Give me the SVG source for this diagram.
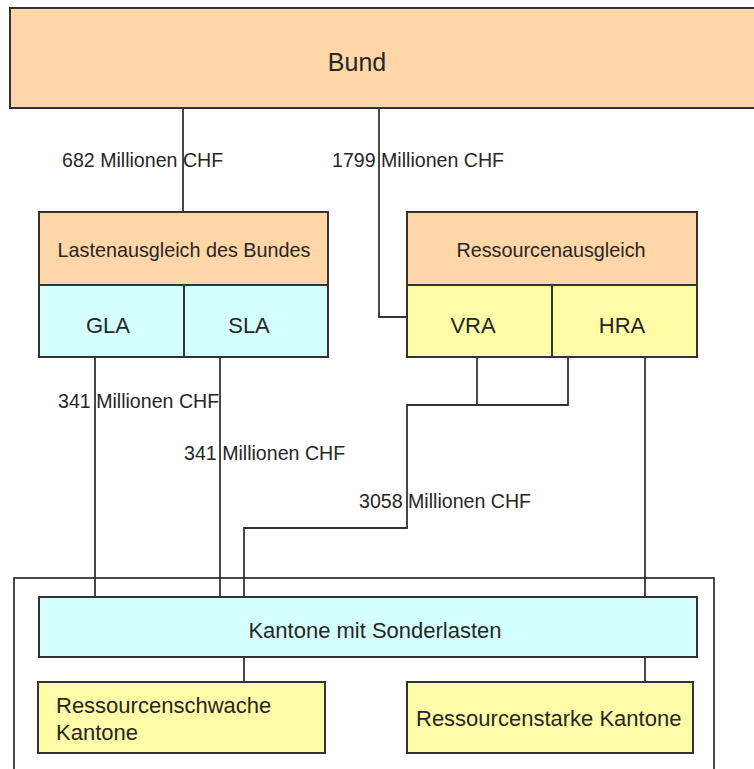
<svg xmlns="http://www.w3.org/2000/svg" width="754" height="769" viewBox="0 0 754 769">
<style>
  .box { stroke: #333; stroke-width: 2; }
  .peach { fill: #FFD6A8; }
  .cyan { fill: #D4FFFF; }
  .yellow { fill: #FFFCA8; }
  .frame { fill: none; stroke: #333; stroke-width: 1.8; }
  .conn { fill: none; stroke: #333; stroke-width: 1.8; }
  text { font-family: "Liberation Sans", Arial, sans-serif; fill: #262626; }
  .big { font-size: 25px; }
  .head { font-size: 19.8px; }
  .sub { font-size: 22px; }
  .lbl { font-size: 19.6px; }
  .c { text-anchor: middle; }
</style>
<rect width="754" height="769" fill="#ffffff"/>
<rect id="frame" class="frame" x="14" y="578" width="700" height="220"/>
<g id="connectors">
  <path class="conn" d="M183 108 V212"/>
  <path class="conn" d="M379 108 V317 H407"/>
  <path class="conn" d="M95 357 V597"/>
  <path class="conn" d="M220 357 V597"/>
  <path class="conn" d="M477 357 V405"/>
  <path class="conn" d="M568 357 V405 H407 V528 H244 V597"/>
  <path class="conn" d="M645 357 V597"/>
  <path class="conn" d="M244 657 V682"/>
  <path class="conn" d="M645 657 V682"/>
</g>
<g id="labels">
  <text class="lbl" x="62" y="167">682 Millionen CHF</text>
  <text class="lbl" x="332" y="167">1799 Millionen CHF</text>
  <text class="lbl" x="58" y="408">341 Millionen CHF</text>
  <text class="lbl" x="184" y="460">341 Millionen CHF</text>
  <text class="lbl" x="359" y="508">3058 Millionen CHF</text>
</g>
<g id="bund">
  <rect class="box peach" x="10" y="8" width="760" height="100"/>
  <text class="big c" x="357" y="71">Bund</text>
</g>
<g id="lastenausgleich">
  <rect class="box peach" x="39" y="212" width="289" height="73"/>
  <text class="head c" x="184" y="257">Lastenausgleich des Bundes</text>
</g>
<g id="gla">
  <rect class="box cyan" x="39" y="285" width="145" height="72"/>
  <text class="sub c" x="108" y="333">GLA</text>
</g>
<g id="sla">
  <rect class="box cyan" x="184" y="285" width="144" height="72"/>
  <text class="sub c" x="249" y="333">SLA</text>
</g>
<g id="ressourcenausgleich">
  <rect class="box peach" x="407" y="212" width="290" height="73"/>
  <text class="head c" x="551" y="257">Ressourcenausgleich</text>
</g>
<g id="vra">
  <rect class="box yellow" x="407" y="285" width="145" height="72"/>
  <text class="sub c" x="473" y="333">VRA</text>
</g>
<g id="hra">
  <rect class="box yellow" x="552" y="285" width="145" height="72"/>
  <text class="sub c" x="622" y="333">HRA</text>
</g>
<g id="kantone-sonderlasten">
  <rect class="box cyan" x="39" y="597" width="658" height="60"/>
  <text class="sub c" x="375" y="638">Kantone mit Sonderlasten</text>
</g>
<g id="ressourcenschwache">
  <rect class="box yellow" x="38" y="682" width="287" height="71"/>
  <text class="sub" x="56" y="713">Ressourcenschwache</text>
  <text class="sub" x="56" y="740">Kantone</text>
</g>
<g id="ressourcenstarke">
  <rect class="box yellow" x="407" y="682" width="286" height="71"/>
  <text class="sub" x="416" y="726">Ressourcenstarke Kantone</text>
</g>
</svg>
